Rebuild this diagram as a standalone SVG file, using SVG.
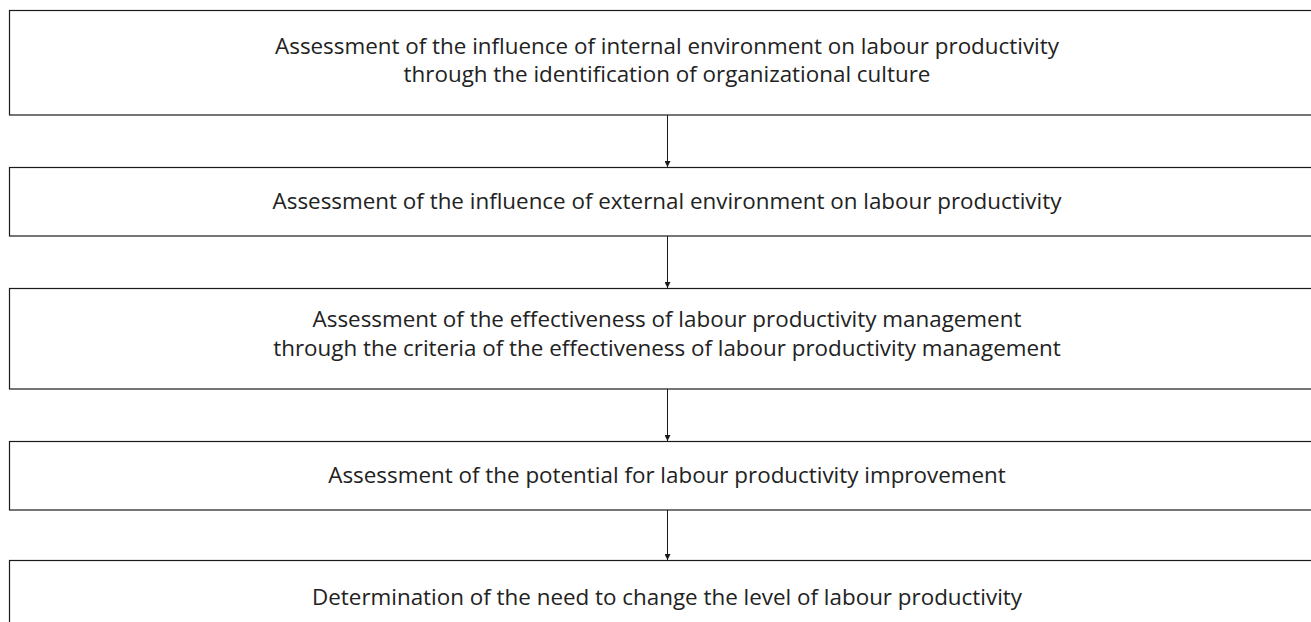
<svg xmlns="http://www.w3.org/2000/svg" width="1311" height="622" viewBox="0 0 1311 622">
  <defs>
    <style>
      .box { fill: #ffffff; stroke: #1a1a1a; stroke-width: 1.2; }
      .label { font-family: "Open Sans", "Noto Sans", "DejaVu Sans", sans-serif; font-size: 22.4px; fill: #222222; text-anchor: middle; }
      .link { stroke: #1a1a1a; stroke-width: 1; fill: none; marker-end: url(#arrow); }
    </style>
    <marker id="arrow" viewBox="0 0 10 10" refX="10" refY="5" markerWidth="6" markerHeight="6" markerUnits="userSpaceOnUse" orient="auto">
      <path d="M0,0 L10,5 L0,10 z" fill="#1a1a1a"/>
    </marker>
  </defs>
  <rect width="1311" height="622" fill="#ffffff"/>

  <!-- flow connectors between consecutive steps -->
  <g id="connectors">
    <line class="link" x1="667.5" y1="115" x2="667.5" y2="167"/>
    <line class="link" x1="667.5" y1="236" x2="667.5" y2="288"/>
    <line class="link" x1="667.5" y1="389" x2="667.5" y2="441"/>
    <line class="link" x1="667.5" y1="510" x2="667.5" y2="560"/>
  </g>

  <g id="step1">
    <rect class="box" x="9.5" y="10.5" width="1320" height="104.5"/>
    <text class="label" x="667" y="54">Assessment of the influence of internal environment on labour productivity</text>
    <text class="label" x="667" y="82">through the identification of organizational culture</text>
  </g>

  <g id="step2">
    <rect class="box" x="9.5" y="167.5" width="1320" height="68.5"/>
    <text class="label" x="667" y="209">Assessment of the influence of external environment on labour productivity</text>
  </g>

  <g id="step3">
    <rect class="box" x="9.5" y="288.5" width="1320" height="100.5"/>
    <text class="label" x="667" y="327">Assessment of the effectiveness of labour productivity management</text>
    <text class="label" x="667" y="356">through the criteria of the effectiveness of labour productivity management</text>
  </g>

  <g id="step4">
    <rect class="box" x="9.5" y="441.5" width="1320" height="68.5"/>
    <text class="label" x="667" y="483">Assessment of the potential for labour productivity improvement</text>
  </g>

  <g id="step5">
    <rect class="box" x="9.5" y="560.5" width="1320" height="100"/>
    <text class="label" x="667" y="605">Determination of the need to change the level of labour productivity</text>
  </g>
</svg>
